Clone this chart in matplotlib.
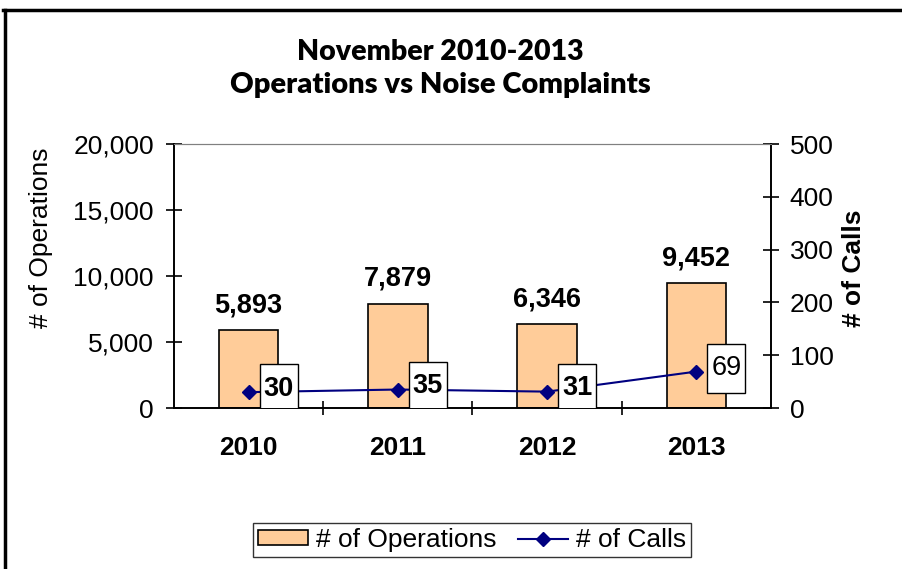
import matplotlib
matplotlib.use('Agg')
import matplotlib.pyplot as plt
from matplotlib.lines import Line2D
from matplotlib.patches import Rectangle, Patch
from matplotlib.transforms import ScaledTranslation

years = ['2010', '2011', '2012', '2013']
operations = [5893, 7879, 6346, 9452]
calls = [30, 35, 31, 69]
calls_bold = [True, True, True, False]
ops_ticks = [0, 5000, 10000, 15000, 20000]
call_ticks = [0, 100, 200, 300, 400, 500]

plt.rcParams['font.family'] = ['Liberation Sans', 'DejaVu Sans']
FS = 19

W, H = 903, 569
fig = plt.figure(figsize=(W / 100, H / 100), dpi=100)
ax = fig.add_axes([174 / W, 1 - 408 / H, 597 / W, 264 / H])
ax2 = ax.twinx()

x = list(range(len(years)))
ax.bar(x, operations, width=0.4, color='#FFCC99', edgecolor='black', lw=1.2, zorder=2)
for xi, v in zip(x, operations):
    ax.annotate(f'{v:,}', (xi, v), xytext=(0, 13), textcoords='offset points',
                ha='center', va='baseline', fontsize=19.5, fontweight='bold')

ax.set_xlim(-0.5, 3.5)
ax.set_ylim(ops_ticks[0], ops_ticks[-1])
ax.set_yticks(ops_ticks)
ax.set_yticklabels([f'{t:,}' for t in ops_ticks])
ax.set_xticks(x)
ax.set_xticklabels(years, fontweight='bold')
ax.set_xticks([0.5, 1.5, 2.5], minor=True)
ax.tick_params(axis='x', which='major', length=0, pad=20, labelsize=FS)
ax.tick_params(axis='x', which='minor', direction='inout', length=10, width=1.2)
ax.tick_params(axis='y', direction='inout', length=11, width=1.2, labelsize=FS, pad=9)

# calls line on secondary axis
ax2.plot(x, calls, color='#000080', lw=1.5, marker='D', markersize=7, zorder=3)
ax2.set_ylim(call_ticks[0], call_ticks[-1])
ax2.set_yticks(call_ticks)
ax2.tick_params(axis='y', direction='inout', length=11, width=1.2, labelsize=FS, pad=8)

for xi, c, b in zip(x, calls, calls_bold):
    tr = fig.dpi_scale_trans + ScaledTranslation(xi, c, ax2.transData)
    ax2.add_patch(Rectangle((0.11, -0.21), 0.38, 0.49, transform=tr, facecolor='white',
                            edgecolor='black', lw=1, zorder=5))
    ax2.text(0.30, 0.035, str(c), transform=tr, ha='center', va='center', fontsize=19.5,
             fontweight='bold' if b else 'normal', zorder=6)

for a in (ax, ax2):
    a.spines['top'].set_color('#808080')
    for s in ('left', 'right', 'bottom'):
        a.spines[s].set_linewidth(1.2)

fig.text(41 / W, 1 - 238 / H, '# of Operations', rotation=90, ha='center', va='center', fontsize=FS)
fig.text(854 / W, 1 - 268 / H, '# of Calls', rotation=90, ha='center', va='center',
         fontsize=FS, fontweight='bold')

fig.text(440 / W, 1 - 60 / H, 'November 2010-2013', ha='center', va='baseline',
         fontsize=20.5, fontweight='heavy', family=['Lato', 'DejaVu Sans'])
fig.text(440 / W, 1 - 93 / H, 'Operations vs Noise Complaints', ha='center', va='baseline',
         fontsize=21, fontweight='heavy', family=['Lato', 'DejaVu Sans'])

handles = [Patch(facecolor='#FFCC99', edgecolor='black', lw=1.2),
           Line2D([], [], color='#000080', lw=1.5, marker='D', markersize=7)]
fig.legend(handles, ['# of Operations', '# of Calls'], loc='center',
           bbox_to_anchor=(472 / W, 1 - 540 / H), ncol=2, frameon=True, fancybox=False,
           edgecolor='black', fontsize=FS, handlelength=1.9, handleheight=0.5,
           columnspacing=0.8, handletextpad=0.3, borderpad=0.2, borderaxespad=0)

# outer frame (left and top only)
fig.add_artist(Line2D([5 / W, 5 / W], [0, 1 - 9.5 / H], color='black', lw=2.5,
                      transform=fig.transFigure))
fig.add_artist(Line2D([3.5 / W, 1], [1 - 9.5 / H, 1 - 9.5 / H], color='black', lw=2.5,
                      transform=fig.transFigure))

fig.savefig('out.png', dpi=100)
